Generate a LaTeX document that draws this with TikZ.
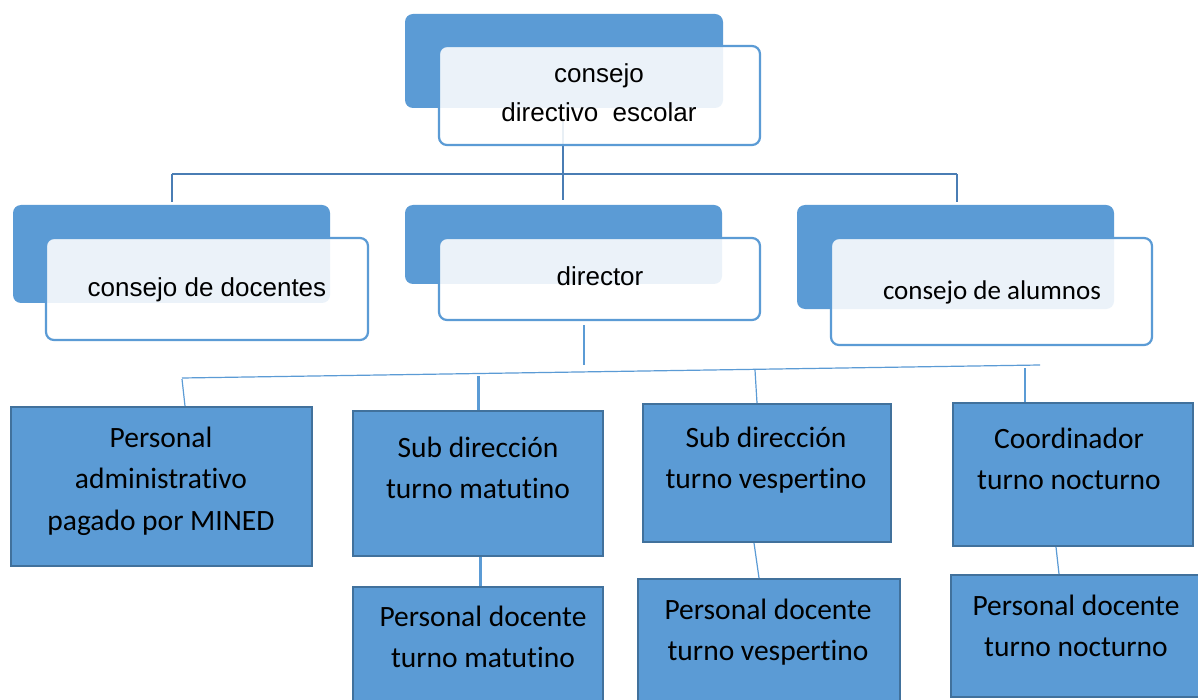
\documentclass[tikz,border=0pt]{standalone}
\usepackage{fontspec}
\setmainfont{Liberation Sans}
\newfontfamily\calfont[Ligatures=NoCommon]{Carlito}
\definecolor{accent}{HTML}{5B9BD5}
\definecolor{edgeblue}{HTML}{41719C}
\definecolor{busblue}{HTML}{4A7DB4}
\tikzset{
  backbox/.style={fill=accent, draw=none, rounded corners=8, inner sep=0, outer sep=0, anchor=north west},
  frontbox/.style={fill=white, fill opacity=0.88, draw=accent, line width=2.2, rounded corners=8, inner sep=0, outer sep=0, anchor=north west},
  orgbox/.style={fill=accent, draw=edgeblue, line width=2.5, inner sep=0, outer sep=0, anchor=north west},
  toptext/.style={anchor=base, inner sep=0, font=\fontsize{26}{30}\selectfont},
  caltext/.style={anchor=base, inner sep=0, font=\calfont\fontsize{29.5}{34}\selectfont},
  alumtext/.style={anchor=base, inner sep=0, font=\calfont\fontsize{27}{32}\selectfont},
  busline/.style={draw=busblue, line width=2},
  thinline/.style={draw=accent, line width=1.2},
  thickline/.style={draw=accent, line width=3},
}
\begin{document}
\begin{tikzpicture}[x=1pt,y=-1pt]
\useasboundingbox (0,0) rectangle (1198,700);
\clip (0,0) rectangle (1198,700);
\fill[white] (0,0) rectangle (1198,700);

% back boxes
\node[backbox, minimum width=318, minimum height=94] (topB) at (405,14) {};
\node[backbox, minimum width=317, minimum height=98] (docB) at (13,205) {};
\node[backbox, minimum width=317, minimum height=79] (dirB) at (405,205) {};
\node[backbox, minimum width=317, minimum height=104] (aluB) at (797,205) {};

% connector coordinates
\coordinate (topC) at (563,122);
\coordinate (busM) at (563,174);
\coordinate (busL) at (172,174);
\coordinate (busR) at (957,174);
\coordinate (dropL) at (172,202);
\coordinate (dropM) at (563,200);
\coordinate (dropR) at (957,202);
\draw[busline] (topC) -- (dropM);
\draw[busline] (busL) -- (busR);
\draw[busline] (busL) -- (dropL);
\draw[busline] (busR) -- (dropR);

% front boxes
\node[frontbox, minimum width=321, minimum height=99] (topF) at (439,46) {};
\node[frontbox, minimum width=322, minimum height=102] (docF) at (46,238) {};
\node[frontbox, minimum width=321, minimum height=82] (dirF) at (439,238) {};
\node[frontbox, minimum width=321, minimum height=107] (aluF) at (831,238) {};

% texts of upper part
\node[toptext] (topT1) at (599,83) {consejo};
\node[toptext] (topT2) at (599,122) {directivo\ \ escolar};
\node[toptext] (docT) at (207,297) {consejo de docentes};
\node[toptext] (dirT) at (600,286) {director};
\node[alumtext] (aluT) at (992,300) {consejo de alumnos};

% lower boxes
\node[orgbox, minimum width=301, minimum height=159] (adm) at (11,407) {};
\node[orgbox, minimum width=250, minimum height=145] (subM) at (353,411) {};
\node[orgbox, minimum width=248, minimum height=138] (subV) at (643,404) {};
\node[orgbox, minimum width=240, minimum height=143] (coorN) at (953,403) {};
\node[orgbox, minimum width=250, minimum height=125] (docM) at (353,587) {};
\node[orgbox, minimum width=262, minimum height=131] (docV) at (638,579) {};
\node[orgbox, minimum width=254, minimum height=122] (docN) at (951,575) {};

% lower connectors
\coordinate (dirS) at (584,325);
\coordinate (dirE) at (584,365);
\coordinate (hbL) at (182,378);
\coordinate (hbR) at (1040,365);
\coordinate (hb1) at (182,379);
\coordinate (hb2) at (478,376);
\coordinate (hb3) at (755,370);
\coordinate (hb4) at (1025,368);
\draw[thinline] (dirS) -- (dirE);
\draw[thinline] (hbL) -- (hbR);
\draw[thinline] (hb1) -- (185,406) coordinate (admN);
\draw[thickline] (hb2) -- (478,410) coordinate (subMN);
\draw[thinline] (hb3) -- (757,403) coordinate (subVN);
\draw[thinline] (hb4) -- (1025,402) coordinate (coorNN);
\draw[thickline] (480,557) coordinate (subMS) -- (480,586) coordinate (docMN);
\draw[thinline] (754,543) coordinate (subVS) -- (759,578) coordinate (docVN);
\draw[thinline] (1056,547) coordinate (coorS) -- (1059,574) coordinate (docNN);

% lower texts
\node[caltext] (admT1) at (161,447) {Personal};
\node[caltext] (admT2) at (161,488.5) {administrativo};
\node[caltext] (admT3) at (161,530) {pagado por MINED};
\node[caltext] (subMT1) at (478,457) {Sub dirección};
\node[caltext] (subMT2) at (478,498.5) {turno matutino};
\node[caltext] (subVT1) at (766,447) {Sub dirección};
\node[caltext] (subVT2) at (766,488.5) {turno vespertino};
\node[caltext] (coorT1) at (1069,448) {Coordinador};
\node[caltext] (coorT2) at (1069,489.5) {turno nocturno};
\node[caltext] (docMT1) at (483,626) {Personal docente};
\node[caltext] (docMT2) at (483,667.5) {turno matutino};
\node[caltext] (docVT1) at (768,619) {Personal docente};
\node[caltext] (docVT2) at (768,660.5) {turno vespertino};
\node[caltext] (docNT1) at (1076,615) {Personal docente};
\node[caltext] (docNT2) at (1076,656.5) {turno nocturno};
\end{tikzpicture}
\end{document}
